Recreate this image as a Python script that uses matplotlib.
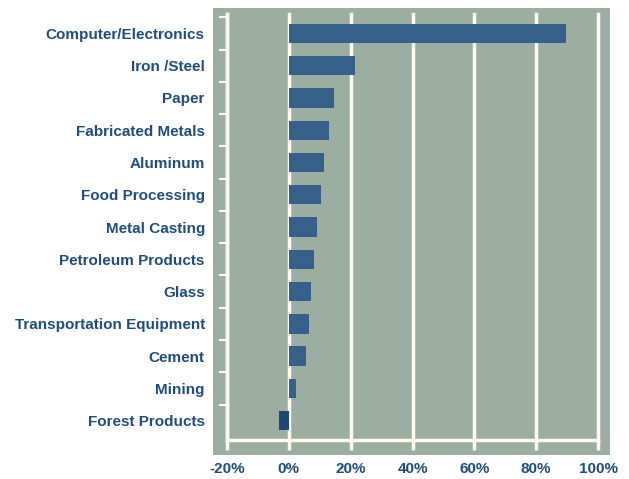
import matplotlib
matplotlib.use("Agg")
import matplotlib.pyplot as plt
from matplotlib.patches import Rectangle
import numpy as np

# Categories from top to bottom and their values (%)
industries = ["Computer/Electronics", "Iron /Steel", "Paper", "Fabricated Metals",
              "Aluminum", "Food Processing", "Metal Casting", "Petroleum Products",
              "Glass", "Transportation Equipment", "Cement", "Mining", "Forest Products"]
changes = [89.5, 21.5, 14.5, 13.0, 11.5, 10.3, 9.2, 8.3, 7.3, 6.5, 5.7, 2.3, -3.3]
xticks = [-20, 0, 20, 40, 60, 80, 100]
xticklabels = ["-20%", "0%", "20%", "40%", "60%", "80%", "100%"]

PANEL = "#9cada2"
BAR = "#36608a"
BAR_NEG = "#1c4876"
TEXT = "#1f4d80"
LINE = "#fdfaf0"

plt.rcParams['font.family'] = ['Liberation Sans', 'DejaVu Sans']

W, H = 629, 479
fig = plt.figure(figsize=(W / 100, H / 100), dpi=100)
fig.patch.set_facecolor("white")

# grey-green panel behind the axes
fig.patches.append(Rectangle((213 / W, (H - 455) / H), (610 - 213) / W, (455 - 8) / H,
                             transform=fig.transFigure, facecolor=PANEL,
                             edgecolor="none", zorder=-5))

ax = fig.add_axes([227 / W, (H - 440) / H, (598 - 227) / W, (440 - 14) / H])
ax.set_facecolor("none")
ax.set_zorder(2)

n = len(industries)
ypos = np.arange(n)[::-1]
colors = [BAR if v >= 0 else BAR_NEG for v in changes]
ax.barh(ypos, changes, height=0.6, color=colors, zorder=3)

ax.set_xlim(-20, 100)
ax.set_ylim(-0.6, n - 0.4)

ax.set_xticks(xticks)
ax.set_xticklabels(xticklabels, fontsize=11, fontweight="bold", color=TEXT)
ax.grid(axis="x", color=LINE, linewidth=2.5, zorder=1)
for gl in ax.xaxis.get_gridlines():
    gl.set_clip_on(False)
ax.tick_params(axis="x", direction="out", length=7.5, width=2.5, color=LINE, pad=8)

ax.set_yticks(ypos)
ax.set_yticklabels(industries, fontsize=11, fontweight="bold", color=TEXT)
ax.set_yticks(np.arange(n) + 0.5, minor=True)
ax.tick_params(axis="y", which="major", length=0, pad=16)
ax.tick_params(axis="y", which="minor", direction="out", length=6, width=1.5, color=LINE)

for s in ["top", "right"]:
    ax.spines[s].set_visible(False)
for s in ["left", "bottom"]:
    ax.spines[s].set_color(LINE)
    ax.spines[s].set_linewidth(2.5)
    ax.spines[s].set_zorder(2)

fig.savefig("out.png", dpi=100, facecolor="white")
